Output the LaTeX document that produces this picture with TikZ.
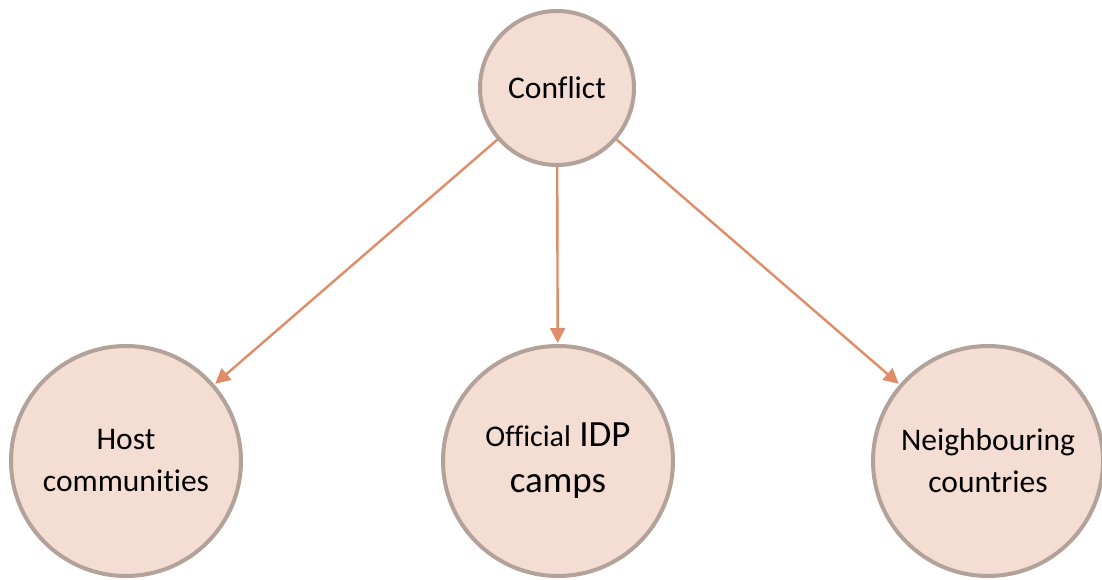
\documentclass[tikz,border=0pt]{standalone}
\usepackage{fontspec}
\setmainfont{Carlito}[Ligatures={NoCommon}]
\usetikzlibrary{arrows.meta}
\definecolor{circfill}{HTML}{F4DDD3}
\definecolor{circdraw}{HTML}{B3A29A}
\definecolor{arrcol}{HTML}{E08C68}
\tikzset{
  bub/.style={circle, draw=circdraw, fill=circfill, line width=4pt, inner sep=0pt, align=center, text=black},
  link/.style={draw=arrcol, line width=2.4pt, -{Triangle[length=15pt,width=15pt]}, shorten >=1pt}
}
\begin{document}
\begin{tikzpicture}[x=1pt,y=-1pt]
\useasboundingbox (0,0) rectangle (1102,580);
\node[bub, minimum size=154pt, font=\fontsize{31.5}{42}\selectfont] (c) at (557,88) {Conflict};
\node[bub, minimum size=230pt, font=\fontsize{31.5}{42}\selectfont] (h) at (126,461) {Host\\communities};
\node[bub, minimum size=230pt, font=\fontsize{37}{46}\selectfont] (o) at (558,461) {{\fontsize{30}{46}\selectfont Official} IDP\\camps};
\node[bub, minimum size=230pt, font=\fontsize{31.5}{42}\selectfont] (n) at (988,461) {Neighbouring\\countries};
\draw[link] (c) -- (h);
\draw[link] (c) -- (o);
\draw[link] (c) -- (n);
\end{tikzpicture}
\end{document}
